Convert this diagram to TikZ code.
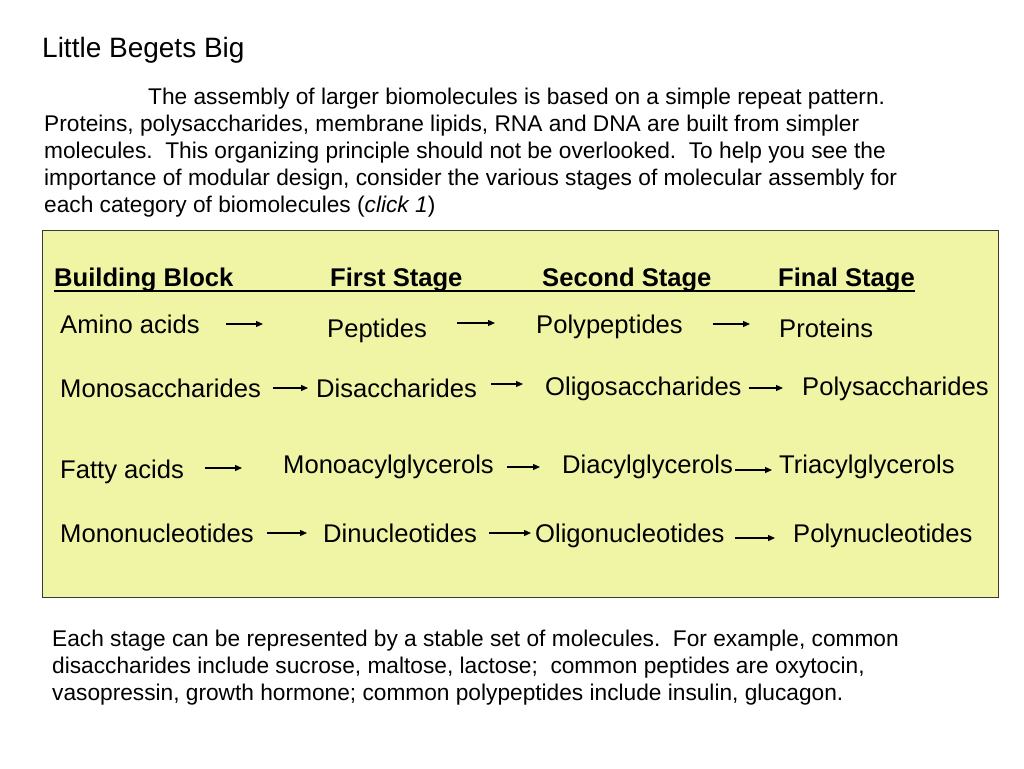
\documentclass[tikz,border=0pt]{standalone}
\usepackage{fontspec}
\setmainfont{Liberation Sans}
\usetikzlibrary{arrows.meta, positioning, calc}
\definecolor{lbyellow}{HTML}{F0F5A6}
\definecolor{lbframe}{HTML}{3A3A32}
\tikzset{
  title/.style={font=\fontsize{28}{34}\selectfont, inner sep=0pt, anchor=base west},
  prose/.style={font=\fontsize{22.7}{27}\selectfont, inner sep=0pt, anchor=base west,
    align=left},
  head/.style={font=\fontsize{25.6}{30}\selectfont\bfseries, inner sep=0pt,
    anchor=base west},
  mol/.style={font=\fontsize{25.6}{30}\selectfont, inner sep=0pt, anchor=base west},
  panel/.style={draw=lbframe, fill=lbyellow, line width=.9pt},
  flow/.style={-{Triangle[length=7pt, width=6pt]}, draw=black, line width=1.2pt},
}
\begin{document}
\begin{tikzpicture}[x=1pt, y=-1pt]
  \useasboundingbox (0,0) rectangle (1024,768);
  \node[title] (ttl) at (42,57) {Little Begets Big};
  % paragraphs sit on the baseline of their last line
  \node[prose] (intro) at (44,212)
    {\hspace*{104pt}The assembly of larger biomolecules is based on a simple repeat pattern.\\
     Proteins, polysaccharides, membrane lipids, RNA and DNA are built from simpler\\
     molecules.\ \ This organizing principle should not be overlooked.\ \ To help you see the\\
     importance of modular design, consider the various stages of molecular assembly for\\
     each category of biomolecules (\textit{click 1})};
  \draw[panel] (42,230) rectangle (998,597);
  % column heads, underlined as one run
  \node[head] (hblock) at (54,286) {Building Block};
  \node[head] (hfirst) at (330,286) {First Stage};
  \node[head] (hsecond) at (542,286) {Second Stage};
  \node[head] (hfinal) at (778,286) {Final Stage};
  \draw[line width=1.6pt] ([yshift=-5pt]hblock.base west) -- ([yshift=-5pt]hfinal.base east);
  % proteins
  \node[mol] (amino) at (60,333) {Amino acids};
  \node[mol] (peptides) at (327,337) {Peptides};
  \node[mol] (polypep) at (536,333) {Polypeptides};
  \node[mol] (proteins) at (779,337) {Proteins};
  \draw[flow] ($(amino.east |- 0,324)+(26,0)$) -- ($(peptides.west |- 0,324)-(64,0)$);
  \draw[flow] ($(peptides.east |- 0,323)+(30,0)$) -- ($(polypep.west |- 0,323)-(41,0)$);
  \draw[flow] ($(polypep.east |- 0,324)+(30,0)$) -- ($(proteins.west |- 0,324)-(29,0)$);
  % sugars
  \node[mol] (monosac) at (60,397) {Monosaccharides};
  \node[mol] (disac) at (316,397) {Disaccharides};
  \node[mol] (oligosac) at (545,395) {Oligosaccharides};
  \node[mol] (polysac) at (802,395) {Polysaccharides};
  \draw[flow] ($(monosac.east |- 0,388)+(12,0)$) -- ($(disac.west |- 0,388)-(8,0)$);
  \draw[flow] ($(disac.east |- 0,384)+(14,0)$) -- ($(oligosac.west |- 0,384)-(22,0)$);
  \draw[flow] ($(oligosac.east |- 0,388)+(7,0)$) -- ($(polysac.west |- 0,388)-(19,0)$);
  % lipids
  \node[mol] (fatty) at (60,478) {Fatty acids};
  \node[mol] (monoacyl) at (283,473) {Monoacylglycerols};
  \node[mol] (diacyl) at (562,473) {Diacylglycerols};
  \node[mol] (triacyl) at (779,473) {Triacylglycerols};
  \draw[flow] ($(fatty.east |- 0,468)+(21,0)$) -- ($(monoacyl.west |- 0,468)-(41,0)$);
  \draw[flow] ($(monoacyl.east |- 0,467)+(13,0)$) -- ($(diacyl.west |- 0,467)-(22,0)$);
  \draw[flow] ($(diacyl.east |- 0,470)+(2,0)$) -- ($(triacyl.west |- 0,470)-(7,0)$);
  % nucleic acids
  \node[mol] (mononuc) at (60,542) {Mononucleotides};
  \node[mol] (dinuc) at (323,542) {Dinucleotides};
  \node[mol] (oligonuc) at (535,542) {Oligonucleotides};
  \node[mol] (polynuc) at (793,542) {Polynucleotides};
  \draw[flow] ($(mononuc.east |- 0,533)+(13,0)$) -- ($(dinuc.west |- 0,533)-(16,0)$);
  \draw[flow] ($(dinuc.east |- 0,533)+(12,0)$) -- ($(oligonuc.west |- 0,533)-(4,0)$);
  \draw[flow] ($(oligonuc.east |- 0,538)+(10,0)$) -- ($(polynuc.west |- 0,538)-(18,0)$);
  \node[prose] (outro) at (52,700)
    {Each stage can be represented by a stable set of molecules.\ \ For example, common\\
     disaccharides include sucrose, maltose, lactose;\ \ common peptides are oxytocin,\\
     vasopressin, growth hormone; common polypeptides include insulin, glucagon.};
\end{tikzpicture}
\end{document}
